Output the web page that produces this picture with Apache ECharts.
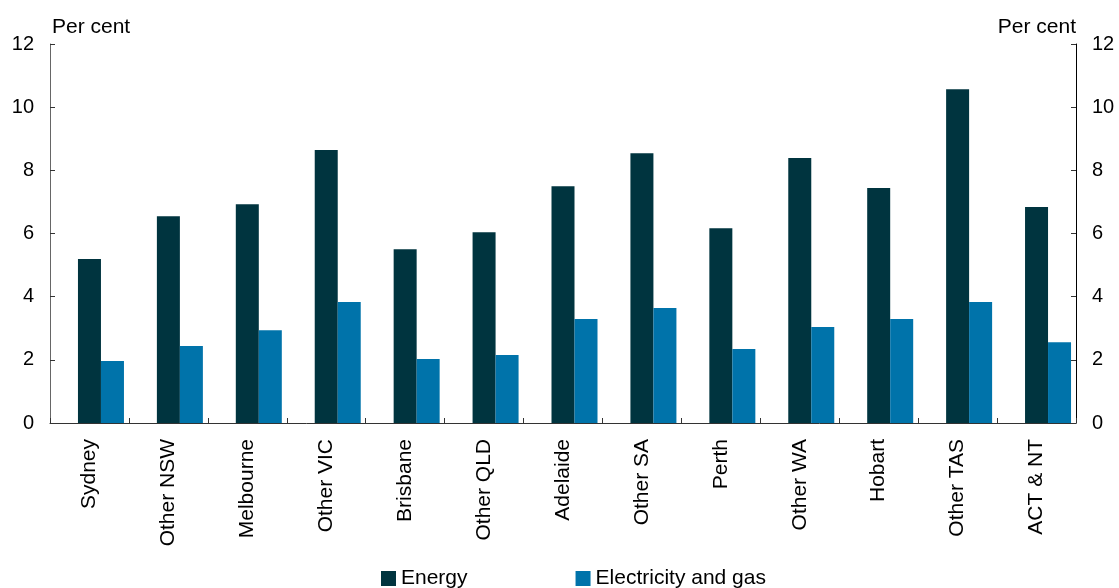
<!DOCTYPE html>
<html><head><meta charset="utf-8">
<script src="https://cdn.jsdelivr.net/npm/echarts@6/dist/echarts.min.js"></script>
<style>html,body{margin:0;padding:0;background:#fff}#c{width:1119px;height:588px}</style>
</head><body><div id="c"></div>
<script>
const categories = ['Sydney','Other NSW','Melbourne','Other VIC','Brisbane','Other QLD','Adelaide','Other SA','Perth','Other WA','Hobart','Other TAS','ACT & NT'];
const energy = [5.19, 6.55, 6.93, 8.64, 5.50, 6.04, 7.50, 8.54, 6.17, 8.39, 7.44, 10.57, 6.84];
const elecGas = [1.96, 2.44, 2.94, 3.83, 2.03, 2.15, 3.29, 3.64, 2.34, 3.04, 3.29, 3.83, 2.56];
const yTicks = [0, 2, 4, 6, 8, 10, 12];

const font = 'Liberation Sans, Arial, sans-serif';
const chart = echarts.init(document.getElementById('c'));
const yAxisCommon = {
  type: 'value', min: 0, max: 12, interval: 2,
  axisTick: {show: true, inside: true, length: 5, lineStyle: {color: '#333'}},
  splitLine: {show: false},
  axisLabel: {fontFamily: font, fontSize: 20, color: '#000', margin: 16},
  nameGap: 6
};
chart.setOption({
  animation: false,
  grid: {left: 50, right: 43, top: 44, bottom: 165, containLabel: false},
  legend: {
    bottom: -6, left: 376, itemWidth: 15, itemHeight: 15, itemGap: 108,
    icon: 'rect',
    textStyle: {fontFamily: font, fontSize: 21, color: '#000'},
    data: ['Energy', 'Electricity and gas']
  },
  xAxis: {
    type: 'category', data: categories,
    axisLine: {lineStyle: {color: '#333'}},
    axisTick: {show: true, inside: true, length: 5, lineStyle: {color: '#333'}},
    axisLabel: {rotate: 90, fontFamily: font, fontSize: 21, color: '#000', margin: 16, interval: 0}
  },
  yAxis: [
    Object.assign({}, yAxisCommon, {position: 'left', name: 'Per cent', nameLocation: 'end',
      axisLine: {show: true, lineStyle: {color: '#666', width: 1}},
      nameTextStyle: {fontFamily: font, fontSize: 21, color: '#000', align: 'left', padding: [0, 0, 0, 2]}}),
    Object.assign({}, yAxisCommon, {position: 'right', name: 'Per cent', nameLocation: 'end',
      axisLine: {show: true, lineStyle: {color: '#000', width: 1}},
      nameTextStyle: {fontFamily: font, fontSize: 21, color: '#000', align: 'right', padding: [0, 0, 0, 0]}})
  ],
  series: [
    {name: 'spacer', type: 'bar', data: [], barWidth: 23, barGap: '0%', silent: true},
    {name: 'Energy', type: 'bar', data: energy, barWidth: 23, barGap: '0%', itemStyle: {color: '#00343f'}},
    {name: 'Electricity and gas', type: 'bar', data: elecGas, barWidth: 23, barGap: '0%', itemStyle: {color: '#0073aa'}}
  ]
});
</script></body></html>
